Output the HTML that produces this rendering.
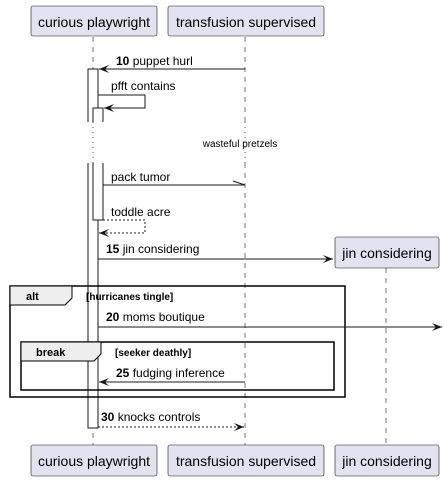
<!DOCTYPE html>
<html><head><meta charset="utf-8"><style>
html,body{margin:0;padding:0;background:#fff;}
svg{display:block;}
text{font-family:"Liberation Sans",sans-serif;fill:#000;}
</style></head><body>
<svg width="444" height="480" viewBox="0 0 444 480" xmlns="http://www.w3.org/2000/svg">
<defs>
<marker id="a" viewBox="0 0 10 10" refX="10" refY="5" markerWidth="10" markerHeight="10" orient="auto" markerUnits="userSpaceOnUse">
<path d="M0,1 L10,5 L0,9 L4,5 Z" fill="#181818"/></marker>
</defs>
<g stroke="#181818" stroke-width="0.6" stroke-dasharray="5,5">
<line x1="93" y1="37" x2="93" y2="122"/><line x1="93" y1="163" x2="93" y2="445"/>
<line x1="245" y1="37" x2="245" y2="122"/><line x1="245" y1="163" x2="245" y2="445"/>
<line x1="386" y1="268" x2="386" y2="445"/>
</g>
<g stroke="#800000" stroke-width="0.8" stroke-dasharray="1,4">
<line x1="93" y1="122" x2="93" y2="163"/><line x1="245" y1="122" x2="245" y2="163"/>
</g>
<text x="240" y="147" font-size="10" text-anchor="middle">wasteful pretzels</text>
<g fill="#e2e2f0" stroke="#181818" stroke-width="0.6">
<rect x="31" y="6" width="126" height="30" rx="2"/>
<rect x="168" y="6" width="156" height="30" rx="2"/>
<rect x="31" y="445" width="126" height="31" rx="2"/>
<rect x="168" y="445" width="156" height="31" rx="2"/>
<rect x="335" y="237" width="104" height="31" rx="2"/>
<rect x="335" y="445" width="104" height="31" rx="2"/>
</g>
<g font-size="14">
<text x="94" y="27" text-anchor="middle">curious playwright</text>
<text x="246" y="27" text-anchor="middle">transfusion supervised</text>
<text x="94" y="466" text-anchor="middle">curious playwright</text>
<text x="246" y="466" text-anchor="middle">transfusion supervised</text>
<text x="387" y="258" text-anchor="middle">jin considering</text>
<text x="387" y="466" text-anchor="middle">jin considering</text>
</g>
<g fill="#fff" stroke="#181818" stroke-width="1">
<path d="M88,122 V69 H98 V122" fill="#fff"/>
<path d="M88,163 V428 H98 V163" fill="#fff"/>
<path d="M93,122 V108 H103 V122" fill="#fff"/>
<path d="M93,163 V220 H103 V163" fill="#fff"/>
</g>
<g fill="none" stroke="#000" stroke-width="1.5">
<rect x="10" y="286" width="335" height="111"/>
<rect x="21" y="342" width="313" height="48"/>
</g>
<path d="M10,286 H72 V298 L65,305 H10 Z" fill="#eee" stroke="#000" stroke-width="1"/>
<path d="M21,342 H101 V354 L94,361 H21 Z" fill="#eee" stroke="#000" stroke-width="1"/>
<text x="26" y="300" font-size="11" font-weight="bold">alt</text>
<text x="86" y="300" font-size="10" font-weight="bold">[hurricanes tingle]</text>
<text x="36" y="356" font-size="11" font-weight="bold">break</text>
<text x="115" y="356" font-size="10" font-weight="bold">[seeker deathly]</text>
<g stroke="#181818" stroke-width="1" fill="none">
<line x1="245" y1="69" x2="99" y2="69" marker-end="url(#a)"/>
<polyline points="98,95 145,95 145,108 104,108" marker-end="url(#a)"/>
<line x1="103" y1="185" x2="245" y2="185"/>
<line x1="245" y1="185" x2="233" y2="181"/>
<polyline points="103,220 145,220 145,233 99,233" stroke-dasharray="2,2" marker-end="url(#a)"/>
<line x1="98" y1="259" x2="333" y2="259" marker-end="url(#a)"/>
<line x1="98" y1="327" x2="442" y2="327" marker-end="url(#a)"/>
<line x1="245" y1="382" x2="99" y2="382" marker-end="url(#a)"/>
<line x1="98" y1="427" x2="244" y2="427" stroke-dasharray="2,2" marker-end="url(#a)"/>
</g>
<g font-size="12">
<text x="116" y="65"><tspan font-weight="bold">10</tspan> puppet hurl</text>
<text x="111" y="90">pfft contains</text>
<text x="111" y="181">pack tumor</text>
<text x="111" y="216">toddle acre</text>
<text x="106" y="253"><tspan font-weight="bold">15</tspan> jin considering</text>
<text x="106" y="321"><tspan font-weight="bold">20</tspan> moms boutique</text>
<text x="116" y="377"><tspan font-weight="bold">25</tspan> fudging inference</text>
<text x="101" y="421"><tspan font-weight="bold">30</tspan> knocks controls</text>
</g>
</svg>
</body></html>
